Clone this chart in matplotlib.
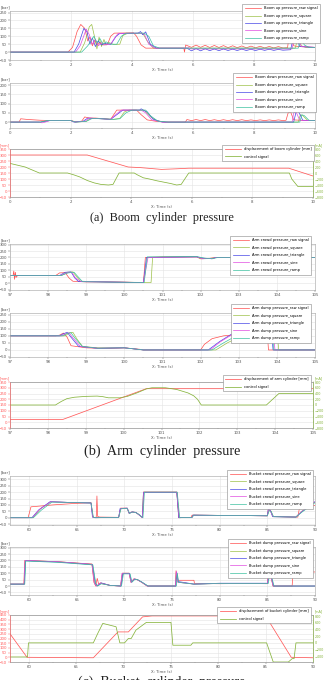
import matplotlib
matplotlib.use('Agg')
import matplotlib.pyplot as plt
from matplotlib.ticker import MultipleLocator, FormatStrFormatter

# ---- data ----
band_t = [5.95, 6.1, 6.25, 6.4, 6.55, 6.7, 6.85, 7.0, 7.15, 7.3, 7.45, 7.6, 7.75, 7.9, 8.05,
          8.2, 8.35, 8.5, 8.65, 8.8, 8.95]

# (a) boom up pressure [bar]
bu_raw_t = [0, 1.9, 2.05, 2.2, 2.32, 2.45, 2.55, 2.62, 2.7, 2.78, 2.86, 2.95, 3.05, 3.2, 3.3, 3.42,
            4.05, 4.15, 4.3, 4.45, 5.7, 5.72, 5.76] + band_t + [9.1, 9.15, 9.22, 9.3, 9.45, 10]
bu_raw_p = [0, 0, 30, 130, 175, 150, 70, 95, 40, 75, 45, 60, 45, 50, 100, 120,
            122, 100, 45, 25, 25, 0, 45] + \
           [30, 44, 30, 43, 29, 42, 29, 41, 28, 40, 28, 39, 27, 38, 27, 37, 26, 36, 26, 35, 26] + \
           [28, 100, 95, 40, 35, 30]
bu_sq_t = [0, 2.3, 2.45, 2.6, 2.68, 2.78, 2.85, 2.92, 3.0, 3.08, 3.15, 3.25, 3.4, 3.6, 3.7, 3.85,
           4.35, 4.5, 4.7, 5.8, 9.35, 9.45, 9.55, 9.7, 10]
bu_sq_p = [0, 0, 60, 160, 175, 90, 20, 95, 35, 80, 45, 60, 48, 50, 105, 118,
           120, 70, 25, 25, 25, 95, 40, 30, 30]
bu_tri_t = [0, 2.1, 2.25, 2.42, 2.52, 2.62, 2.7, 2.8, 2.9, 3.0, 3.1, 3.3, 3.48, 3.6, 4.2, 4.28,
            4.35, 4.45, 4.6, 4.8, 5.8] + band_t + [9.2, 9.3, 9.38, 9.5, 10]
bu_tri_p = [0, 0, 50, 150, 130, 50, 90, 35, 70, 45, 55, 48, 100, 118, 120, 130,
            110, 128, 50, 25, 25] + \
           [8, 22, 8, 21, 9, 20, 9, 20, 10, 19, 10, 19, 10, 18, 10, 18, 11, 18, 11, 17, 12] + \
           [15, 100, 95, 35, 30]
bu_sin_t = [0, 2.15, 2.3, 2.5, 2.6, 2.7, 2.8, 2.9, 3.0, 3.1, 3.3, 3.45, 3.55, 4.25, 4.4, 4.55,
            4.75, 5.8, 5.85, 5.95, 9.25, 9.32, 9.4, 9.55, 10]
bu_sin_p = [0, 0, 40, 145, 110, 50, 80, 40, 60, 45, 50, 95, 118, 120, 115, 50,
            25, 25, 28, 20, 20, 95, 100, 35, 30]
bu_ramp_t = [0, 2.35, 2.55, 2.75, 2.85, 2.95, 3.05, 3.15, 3.3, 3.5, 3.65, 3.8, 4.4, 4.55, 4.7,
             4.9, 9.45, 9.55, 9.65, 9.8, 10]
bu_ramp_p = [0, 0, 40, 100, 60, 85, 50, 65, 50, 50, 100, 120, 120, 100, 40,
             25, 25, 90, 45, 30, 30]

# (a) boom down pressure [bar]
bd_raw_t = [0, 0.3, 0.35, 0.6, 1.0, 1.5, 2.0, 2.15, 2.35, 2.45, 2.6, 2.8, 3.1, 3.3, 3.4, 3.5,
            4.15, 4.3, 4.5, 4.8, 5.1, 5.75, 5.8] + band_t + [9.05, 9.12, 9.2, 9.3, 9.5, 10]
bd_raw_p = [0, 0, 18, 14, 10, 8, 8, 2, 5, 28, 22, 22, 18, 15, 40, 65,
            65, 40, 12, 4, 0, 0, 14] + \
           [8, 14, 8, 14, 8, 13, 8, 13, 8, 13, 8, 13, 8, 12, 8, 12, 8, 12, 8, 12, 8] + \
           [10, 50, 55, 12, 10, 8]
bd_sq_t = [0, 1.0, 1.1, 1.3, 2.0, 2.15, 2.5, 2.65, 3.0, 3.4, 3.6, 3.75, 3.9, 4.4, 4.6, 4.8, 5.1,
           9.45, 9.52, 9.6, 9.75, 10]
bd_sq_p = [0, 0, 4, 8, 8, 0, 4, 20, 18, 15, 20, 55, 65, 65, 30, 8, 0,
           0, 40, 35, 10, 8]
bd_tri_t = [0, 1.0, 1.1, 1.3, 2.0, 2.1, 2.4, 2.55, 3.0, 3.3, 3.5, 3.7, 4.25, 4.3, 4.4, 4.5, 4.7,
            5.0, 9.3, 9.38, 9.45, 9.6, 10]
bd_tri_p = [0, 0, 3, 8, 8, 0, 5, 22, 18, 15, 40, 65, 65, 72, 62, 55, 15,
            0, 0, 55, 60, 10, 8]
bd_sin_t = [0, 0.95, 1.05, 1.15, 1.3, 2.0, 2.12, 2.45, 2.6, 3.0, 3.3, 3.5, 3.65, 4.3, 4.45, 4.65,
            5.0, 9.25, 9.3, 9.38, 9.5, 10]
bd_sin_p = [0, 0, -4, 0, 8, 8, 0, 4, 22, 18, 15, 45, 65, 65, 50, 12,
            0, 0, 50, 55, 10, 8]
bd_ramp_t = [0, 1.0, 1.2, 2.0, 2.15, 2.5, 2.7, 3.0, 3.4, 3.6, 3.8, 4.0, 4.45, 4.6, 4.85, 5.2,
             9.5, 9.57, 9.65, 9.8, 10]
bd_ramp_p = [0, 0, 8, 8, 0, 4, 20, 18, 15, 18, 50, 65, 65, 35, 5, 0,
             0, 40, 35, 10, 8]

# (a) boom displacement [mm] / control [mA]
boom_disp_t = [0, 2.55, 3.9, 4.3, 5.0, 5.5, 5.9, 9.2, 10]
boom_disp = [300, 300, 200, 195, 180, 185, 190, 190, 125]
boom_ctrl_t = [0, 0.5, 0.97, 1.9, 2.1, 2.3, 2.55, 2.78, 3.0, 3.25, 3.4, 3.6, 4.1, 4.2, 4.4, 4.6,
               4.85, 5.1, 5.3, 5.5, 5.65, 5.9, 9.22, 9.3, 9.5, 10]
boom_ctrl = [320, 200, 0, 0, -60, -130, -250, -330, -380, -400, -380, 0, 0, -60, -160, -200,
             -260, -310, -350, -400, -380, 0, 0, -200, -450, -450]

# (b) arm crowd pressure [bar]
ac_raw_t = [97.0, 97.08, 97.1, 97.12, 97.14, 97.16, 97.2, 98.2, 98.3, 98.45, 98.55, 98.65, 99.0,
            100.0, 100.5, 100.55, 101.0, 101.9, 102.0, 102.2, 102.4, 105.0]
ac_raw_p = [60, 60, 95, 30, 85, 45, 60, 60, 80, 82, 40, 15, 10,
            8, 5, 200, 205, 205, 190, 192, 200, 200]
ac_sq_t = [97, 98.35, 98.5, 98.65, 98.75, 98.85, 100.0, 100.7, 100.74, 101.9, 102.0, 102.25, 102.4, 105]
ac_sq_p = [60, 60, 85, 88, 50, 15, 8, 5, 200, 205, 190, 192, 200, 200]
ac_tri_t = [97, 98.3, 98.45, 98.6, 98.7, 98.8, 100.5, 100.58, 101.9, 102.05, 102.3, 102.4, 105]
ac_tri_p = [60, 60, 85, 88, 40, 12, 5, 200, 205, 195, 190, 200, 200]
ac_sin_t = [97, 98.32, 98.5, 98.62, 98.72, 98.85, 100.5, 100.62, 101.9, 102.05, 102.3, 102.4, 105]
ac_sin_p = [60, 60, 80, 85, 40, 15, 5, 200, 205, 190, 192, 200, 200]
ac_ramp_t = [97, 98.35, 98.52, 98.68, 98.8, 98.9, 100.52, 100.6, 101.9, 102.1, 102.3, 102.45, 105]
ac_ramp_p = [60, 60, 80, 85, 45, 12, 5, 205, 207, 195, 190, 200, 200]

# (b) arm dump pressure [bar]
ad_raw_t = [97, 98.2, 98.3, 98.4, 98.5, 98.6, 99.0, 99.5, 100.0, 100.4, 100.5, 102.0, 102.1, 102.3,
            102.6, 103.0, 103.4, 103.75, 103.78, 105]
ad_raw_p = [100, 100, 105, 120, 90, 30, 15, 10, 15, 5, 0, 0, 40, 80,
            100, 110, 115, 115, 0, 0]
ad_sq_t = [97, 98.45, 98.55, 98.65, 98.75, 98.9, 99.3, 100.0, 100.5, 102.4, 102.7, 103.0, 103.5,
           104.0, 104.05, 105]
ad_sq_p = [100, 100, 120, 125, 80, 25, 15, 15, 0, 0, 50, 90, 120, 130, 0, 0]
ad_tri_t = [97, 98.3, 98.4, 98.5, 98.6, 98.8, 99.3, 100.0, 100.5, 102.2, 102.5, 102.8, 103.2,
            103.6, 103.85, 103.9, 105]
ad_tri_p = [100, 100, 115, 125, 90, 25, 12, 15, 0, 0, 60, 110, 145, 155, 158, 0, 0]
ad_sin_t = [97, 98.35, 98.45, 98.55, 98.65, 98.85, 99.3, 100.0, 100.5, 102.25, 102.5, 102.8, 103.2,
            103.6, 103.9, 103.95, 105]
ad_sin_p = [100, 100, 115, 122, 85, 25, 12, 15, 0, 0, 55, 105, 135, 145, 145, 0, 0]
ad_ramp_t = [97, 98.4, 98.5, 98.6, 98.7, 98.9, 99.3, 100.0, 100.5, 102.3, 102.6, 102.9, 103.3,
             103.7, 103.88, 103.92, 105]
ad_ramp_p = [100, 100, 118, 122, 85, 25, 12, 15, 0, 0, 50, 95, 125, 135, 138, 0, 0]

# (b) arm displacement [mm] / control [mA]
arm_disp_t = [97, 98.4, 100.6, 105]
arm_disp = [25, 25, 292, 292]
arm_ctrl_t = [97, 98.2, 98.35, 98.5, 98.7, 99.0, 99.3, 99.45, 99.6, 99.9, 100.1, 100.35, 100.6,
              100.75, 101.1, 101.4, 101.7, 101.85, 101.95, 102.05, 103.77, 104.1, 105]
arm_ctrl = [0, 0, 120, 220, 270, 300, 310, 290, 250, 250, 300, 420, 560,
            600, 600, 540, 420, 320, 200, 0, 0, 400, 400]

# (c) bucket crowd pressure [bar]
bc_raw_t = [58, 59.9, 60.2, 62.5, 64.5, 66.5, 66.7, 66.85, 67.05, 67.12, 67.2, 67.4, 69.4, 69.6,
            70.3, 70.5, 70.8, 71.2, 71.5, 71.9, 72.0, 75.5, 75.7, 77.0, 77.1, 85.0, 85.1, 85.3,
            85.6, 87.8, 88.2, 88.4, 90]
bc_raw_p = [0, 0, 85, 100, 110, 118, 10, 0, 5, 170, 10, 5, 3, 75,
            75, 35, 45, 42, 25, 0, 200, 200, 0, 3, 20, 15, 65, 60,
            10, 5, 5, 90, 95]
bc_sq_t = [58, 60.4, 61.2, 62.3, 64, 66.5, 66.7, 67.0, 69.4, 69.6, 70.3, 70.5, 70.8, 71.2, 71.5,
           71.9, 72.0, 75.5, 75.75, 77.1, 77.2, 85.0, 85.15, 85.35, 85.6, 88.0, 88.6, 90]
bc_sq_p = [0, 0, 70, 125, 120, 115, 5, 0, 2, 70, 72, 35, 45, 40, 25,
           0, 200, 200, 0, 3, 20, 15, 60, 55, 8, 5, 50, 120]
bc_tri_t = [58, 60.3, 61.0, 62.2, 64, 66.5, 66.65, 66.9, 69.4, 69.55, 70.3, 70.5, 70.8, 71.2, 71.5,
            71.9, 72.0, 75.5, 75.7, 77.1, 77.2, 85.0, 85.1, 85.3, 85.55, 88.0, 88.5, 90]
bc_tri_p = [0, 0, 60, 125, 120, 115, 5, 0, 2, 72, 75, 35, 45, 42, 25,
            0, 198, 198, 0, 3, 20, 15, 65, 60, 8, 5, 40, 125]
bc_sin_t = [58, 60.35, 61.1, 62.3, 64, 66.5, 66.7, 66.95, 69.4, 69.6, 70.3, 70.5, 70.8, 71.2, 71.5,
            71.9, 72.05, 75.5, 75.75, 77.1, 77.25, 85.0, 85.15, 85.3, 85.6, 88.0, 88.55, 90]
bc_sin_p = [0, 0, 65, 125, 120, 115, 3, 0, 2, 72, 74, 35, 45, 40, 25,
            0, 200, 200, 0, 3, 20, 15, 62, 58, 8, 5, 45, 125]
bc_ramp_t = [58, 60.45, 61.3, 62.4, 64, 66.5, 66.75, 67.0, 69.4, 69.65, 70.3, 70.55, 70.85, 71.2,
             71.55, 71.95, 72.1, 75.55, 75.8, 77.1, 77.3, 85.0, 85.2, 85.4, 85.65, 88.0, 88.65, 90]
bc_ramp_p = [0, 0, 60, 122, 120, 115, 3, 0, 2, 70, 72, 33, 45, 40,
             25, 0, 200, 200, 0, 3, 20, 15, 55, 50, 8, 5, 45, 118]

# (c) bucket dump pressure [bar]
bk_raw_t = [58, 59.45, 59.55, 63, 66.6, 66.8, 67.0, 67.15, 67.3, 67.5, 68.5, 69.6, 69.8, 70.5, 70.7,
            71.0, 71.3, 71.8, 72.4, 75.35, 75.42, 75.5, 75.6, 77.3, 77.35, 80, 83, 85.0, 85.15,
            85.3, 85.6, 87.6, 87.7, 90]
bk_raw_p = [15, 15, 200, 190, 172, 30, 0, 60, 15, 25, 5, 0, 100, 100, 30,
            55, 52, 30, 0, 0, 120, 60, 45, 45, 20, 18, 20, 18, 120,
            100, 0, 0, 110, 110]
bk_sq_t = [58, 59.5, 59.6, 63, 66.6, 66.9, 67.1, 67.5, 68.5, 69.6, 69.8, 70.5, 70.7, 71.0, 71.3,
           71.8, 72.4, 75.35, 75.45, 75.6, 76.5, 77.3, 80, 85.0, 85.15, 85.3, 85.6, 90]
bk_sq_p = [15, 15, 200, 190, 170, 20, 0, 20, 5, 0, 100, 100, 30, 55, 52,
           30, 0, 0, 110, 30, 22, 15, 20, 20, 115, 100, 0, 0]
bk_tri_t = [58, 59.5, 59.62, 63, 66.65, 66.95, 67.15, 67.55, 68.5, 69.65, 69.85, 70.55, 70.75, 71.05,
            71.35, 71.85, 72.45, 75.4, 75.5, 75.65, 76.5, 77.3, 80, 85.05, 85.2, 85.35, 85.65, 90]
bk_tri_p = [15, 15, 198, 188, 168, 25, 0, 25, 5, 0, 98, 98, 30, 55,
            50, 30, 0, 0, 105, 35, 25, 15, 22, 22, 110, 95, 0, 0]
bk_sin_t = [58, 59.48, 59.58, 63, 66.6, 66.85, 67.05, 67.45, 68.5, 69.6, 69.75, 70.5, 70.7, 71.0,
            71.3, 71.8, 72.4, 75.35, 75.45, 75.6, 76.5, 77.3, 80, 85.0, 85.12, 85.3, 85.6, 90]
bk_sin_p = [15, 15, 200, 190, 170, 22, 0, 22, 5, 0, 100, 100, 28, 55,
            52, 30, 0, 0, 115, 30, 22, 15, 20, 20, 120, 100, 0, 0]
bk_ramp_t = [58, 59.55, 59.65, 63, 66.7, 67.0, 67.2, 67.6, 68.5, 69.7, 69.9, 70.6, 70.8, 71.1,
             71.4, 71.9, 72.5, 75.45, 75.55, 75.7, 76.5, 77.3, 80, 85.1, 85.25, 85.4, 85.7, 90]
bk_ramp_p = [15, 15, 195, 185, 165, 18, 0, 18, 5, 0, 95, 95, 30, 52,
             50, 28, 0, 0, 100, 28, 22, 15, 20, 20, 105, 90, 0, 0]

# (c) bucket displacement [mm] / control [mA]
bucket_disp_t = [58, 59.8, 66.8, 69.4, 70.5, 72.0, 73.0, 85.0, 87.7, 90]
bucket_disp = [250, 0, -5, 270, 270, 430, 440, 440, 0, -5]
bucket_ctrl_t = [58, 59.85, 59.95, 66.8, 67.3, 67.8, 68.5, 69.2, 69.6, 70.1, 70.5, 70.8, 71.3, 72.4,
                 75.0, 75.2, 77.1, 77.3, 85.1, 85.8, 87.4, 87.8, 88.0, 88.2, 90]
bucket_ctrl = [-420, -420, 0, 0, 300, 580, 530, 480, 0, 0, 130, 130, 380, 610,
               610, -70, -70, 0, 0, -570, -570, -470, -470, 0, 0]

suffixes = ['raw signal', 'square', 'triangle', 'sine', 'ramp']
colors = ['#ff4d4d', '#9cc048', '#4646e6', '#e04ce0', '#3cc0a0']
RED = '#ff5a5a'
GREEN = '#86b43c'
GREY = '#555555'

W, H = 325, 680
fig = plt.figure(figsize=(W / 100, H / 100), dpi=100)


def rect(top, bottom, left=10, right=315):
    return [left / W, 1 - bottom / H, (right - left) / W, (bottom - top) / H]


def style(ax, xlim, xmajor, xminor):
    ax.set_xlim(*xlim)
    ax.xaxis.set_major_locator(MultipleLocator(xmajor))
    ax.xaxis.set_minor_locator(MultipleLocator(xminor))
    ax.xaxis.set_major_formatter(FormatStrFormatter('%d'))
    ax.tick_params(which='both', labelsize=2.8, length=1.2, width=0.3, pad=1, colors=GREY)
    ax.tick_params(which='minor', length=0.8)
    ax.grid(True, color='#e4e4e4', lw=0.4)
    for s in ax.spines.values():
        s.set_linewidth(0.4)
        s.set_color('#a0a0a0')
    ax.set_xlabel('X: Time (s)', fontsize=2.8, labelpad=1, color=GREY)


def add_legend(ax, handles, top, right):
    leg = ax.legend(handles=handles, loc='upper right', bbox_to_anchor=(right / W, 1 - top / H),
                    bbox_transform=fig.transFigure, fontsize=2.6, handlelength=4.5,
                    labelspacing=0.95, borderpad=0.7, fancybox=False, framealpha=1)
    leg.get_frame().set_linewidth(0.4)
    leg.get_frame().set_edgecolor('#888888')


def pressure_panel(top, bottom, name, series, xlim, xmajor, xminor, ylim, leg_top, leg_right):
    ax = fig.add_axes(rect(top, bottom))
    lines = []
    for (t, p), col, sfx in zip(series, colors, suffixes):
        ln, = ax.plot(t, p, color=col, lw=0.5, label=name + '_' + sfx)
        lines.append(ln)
    style(ax, xlim, xmajor, xminor)
    ax.set_ylim(*ylim)
    ax.yaxis.set_major_locator(MultipleLocator(50))
    ax.text(0, 1.03, '[bar]', transform=ax.transAxes, fontsize=2.8, ha='right', va='bottom', color=GREY)
    add_legend(ax, lines, leg_top, leg_right)
    return ax


def disp_panel(top, bottom, name, td, d, tc, c, xlim, xmajor, xminor, rlim, rstep, glim, gstep,
               leg_top, leg_right):
    ax = fig.add_axes(rect(top, bottom, right=313))
    ax2 = ax.twinx()
    l1, = ax.plot(td, d, color=RED, lw=0.55, label='displacement of ' + name + ' cylinder [mm]')
    l2, = ax2.plot(tc, c, color=GREEN, lw=0.55, label='control signal')
    style(ax, xlim, xmajor, xminor)
    ax.set_ylim(*rlim)
    ax.yaxis.set_major_locator(MultipleLocator(rstep))
    ax.tick_params(axis='y', colors=RED)
    ax2.set_ylim(*glim)
    ax2.yaxis.set_major_locator(MultipleLocator(gstep))
    ax2.tick_params(labelsize=2.4, length=1.0, width=0.3, pad=0.5, colors=GREEN)
    for s in ax2.spines.values():
        s.set_linewidth(0.4)
        s.set_color('#a0a0a0')
    ax2.spines['left'].set_color(RED)
    ax2.spines['right'].set_color(GREEN)
    ax.text(0, 1.03, '[mm]', transform=ax.transAxes, fontsize=2.6, ha='right', va='bottom', color=RED)
    ax.text(1.005, 1.03, '[mA]', transform=ax.transAxes, fontsize=2.4, ha='left', va='bottom', color=GREEN)
    add_legend(ax2, [l1, l2], leg_top, leg_right)


def caption(y, text, size):
    fig.text(162 / W, 1 - y / H, text, ha='center', va='center', fontsize=size,
             family='Liberation Serif', color='#222222')


# (a) boom
pressure_panel(11, 60, 'Boom up pressure',
               [(bu_raw_t, bu_raw_p), (bu_sq_t, bu_sq_p), (bu_tri_t, bu_tri_p),
                (bu_sin_t, bu_sin_p), (bu_ramp_t, bu_ramp_p)],
               (0, 10), 2, 1, (-50, 260), 2, 322)
pressure_panel(83, 128, 'Boom down pressure',
               [(bd_raw_t, bd_raw_p), (bd_sq_t, bd_sq_p), (bd_tri_t, bd_tri_p),
                (bd_sin_t, bd_sin_p), (bd_ramp_t, bd_ramp_p)],
               (0, 10), 2, 1, (-32, 212), 71, 318)
disp_panel(149, 197, 'boom', boom_disp_t, boom_disp, boom_ctrl_t, boom_ctrl,
           (0, 10), 2, 1, (-50, 350), 50, (-800, 800), 200, 143, 316)
caption(218, '(a)  Boom  cylinder  pressure', 8.8)

# (b) arm
pressure_panel(244, 290, 'Arm crowd pressure',
               [(ac_raw_t, ac_raw_p), (ac_sq_t, ac_sq_p), (ac_tri_t, ac_tri_p),
                (ac_sin_t, ac_sin_p), (ac_ramp_t, ac_ramp_p)],
               (97, 105), 1, 0.5, (-53, 305), 234, 313)
pressure_panel(313, 357, 'Arm dump pressure',
               [(ad_raw_t, ad_raw_p), (ad_sq_t, ad_sq_p), (ad_tri_t, ad_tri_p),
                (ad_sin_t, ad_sin_p), (ad_ramp_t, ad_ramp_p)],
               (97, 105), 1, 0.5, (-50, 262), 302, 313)
disp_panel(382, 428, 'arm', arm_disp_t, arm_disp, arm_ctrl_t, arm_ctrl,
           (97, 105), 1, 0.5, (-50, 350), 50, (-800, 800), 200, 373, 313)
caption(451, '(b)  Arm  cylinder  pressure', 10.2)

# (c) bucket
pressure_panel(476, 525, 'Bucket crowd pressure',
               [(bc_raw_t, bc_raw_p), (bc_sq_t, bc_sq_p), (bc_tri_t, bc_tri_p),
                (bc_sin_t, bc_sin_p), (bc_ramp_t, bc_ramp_p)],
               (58, 90), 5, 2.5, (-57, 326), 468, 315)
pressure_panel(547, 595, 'Bucket dump pressure',
               [(bk_raw_t, bk_raw_p), (bk_sq_t, bk_sq_p), (bk_tri_t, bk_tri_p),
                (bk_sin_t, bk_sin_p), (bk_ramp_t, bk_ramp_p)],
               (58, 90), 5, 2.5, (-70, 305), 537, 315)
disp_panel(615, 662, 'bucket', bucket_disp_t, bucket_disp, bucket_ctrl_t, bucket_ctrl,
           (58, 90), 5, 2.5, (-50, 450), 50, (-570, 830), 200, 605, 313)
caption(682, '(c)  Bucket  cylinder  pressure', 10)

fig.savefig('out.png', dpi=100)
